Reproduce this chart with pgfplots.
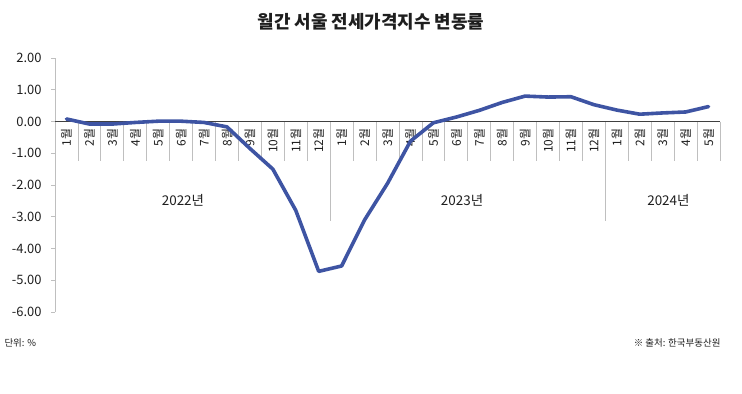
\documentclass[border=0pt]{standalone}
\usepackage{pgfplots}
\pgfplotsset{compat=1.18}
\usepackage{fontspec}
\setmainfont{Noto Sans CJK KR}
\definecolor{lineblue}{RGB}{62,84,163}
\definecolor{sepgray}{RGB}{191,191,191}
\definecolor{txt}{RGB}{30,30,30}
\pgfplotstableread{
idx val
0 0.08
1 -0.08
2 -0.08
3 -0.03
4 0.01
5 0.01
6 -0.03
7 -0.17
8 -0.85
9 -1.50
10 -2.80
11 -4.72
12 -4.55
13 -3.10
14 -1.95
15 -0.62
16 -0.04
17 0.14
18 0.35
19 0.60
20 0.80
21 0.77
22 0.78
23 0.53
24 0.36
25 0.23
26 0.27
27 0.30
28 0.47
}\seoul
\begin{document}
\begin{tikzpicture}[x=1bp,y=1bp]
\useasboundingbox (0,0) rectangle (742,393);
\node[font=\fontsize{18}{20}\selectfont\bfseries, text=txt] at (371,371) {월간 서울 전세가격지수 변동률};
\node[font=\fontsize{9.5}{10}\selectfont, text=txt, anchor=west] at (1,50) {단위: \%};
\node[font=\fontsize{9.5}{10}\selectfont, text=txt, anchor=east] at (724,50) {※ 출처: 한국부동산원};
\begin{axis}[
  at={(55bp,81bp)}, anchor=south west,
  scale only axis, width=665bp, height=254bp,
  xmin=-0.5, xmax=28.5, ymin=-6, ymax=2,
  axis x line=none, axis y line*=left,
  axis line style={-, draw=sepgray, line width=0.8bp},
  xtick=\empty,
  ytick={-6,-5,...,2},
  tick align=outside, major tick length=4bp,
  ytick style={draw=sepgray, line width=0.8bp},
  /pgf/number format/assume math mode=true,
  yticklabel style={/pgf/number format/.cd, fixed, fixed zerofill, precision=2,
     /tikz/.cd, font=\fontsize{13}{14}\selectfont, text=txt, xshift=-6bp},
  clip=false,
]
\pgfplotsinvokeforeach{0.5,1.5,...,28.5}{
  \draw[sepgray, line width=0.8bp] (axis cs:#1,0) -- (axis cs:#1,-1.25);
}
\draw[sepgray, line width=0.8bp] (axis cs:11.5,0) -- (axis cs:11.5,-3.13);
\draw[sepgray, line width=0.8bp] (axis cs:23.5,0) -- (axis cs:23.5,-3.13);
\draw[black!75, line width=0.8bp] (axis cs:-0.5,0) -- (axis cs:28.5,0);
\pgfplotsinvokeforeach{0,...,28}{
  \pgfmathtruncatemacro\mm{mod(#1,12)+1}
  \edef\tmp{\noexpand\node[rotate=90, anchor=east, inner sep=1bp, font=\noexpand\fontsize{12}{12}\noexpand\selectfont, text=txt] at (axis cs:#1,-0.18) {\mm{}월};}
  \tmp
}
\node[font=\fontsize{13.5}{14}\selectfont, text=txt] at (axis cs:5.08,-2.49) {2022년};
\node[font=\fontsize{13.5}{14}\selectfont, text=txt] at (axis cs:17.25,-2.49) {2023년};
\node[font=\fontsize{13.5}{14}\selectfont, text=txt] at (axis cs:26.25,-2.49) {2024년};
\addplot[lineblue, line width=3.6bp, line join=round, line cap=round] table[x=idx, y=val] {\seoul};
\end{axis}
\end{tikzpicture}
\end{document}
